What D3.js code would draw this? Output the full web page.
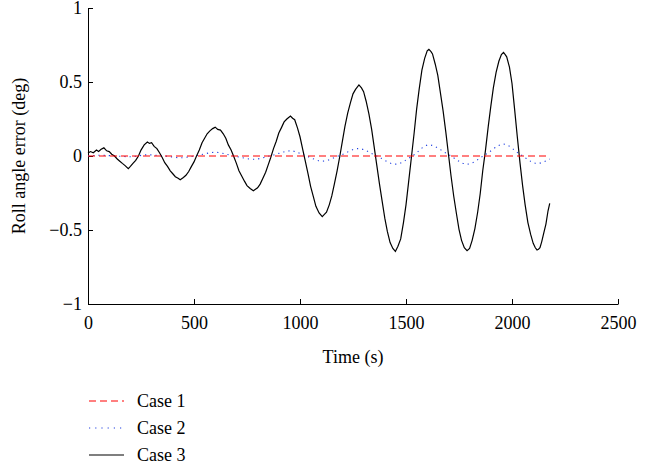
<!DOCTYPE html>
<html>
<head>
<meta charset="utf-8">
<script src="https://cdn.jsdelivr.net/npm/d3@7"></script>
<style>
  body { margin: 0; background: #fff; }
  text { font-family: "Liberation Serif", "DejaVu Serif", serif; }
</style>
</head>
<body>
<svg id="chart" width="663" height="470"></svg>
<script>
// ---- data ----
const xTicks = [0, 500, 1000, 1500, 2000, 2500];
const yTicks = [-1, -0.5, 0, 0.5, 1];

const case1Time = [0, 2178];
const case1Value = [0, 0];

const case2Time = [0, 60, 130, 200, 280, 360, 435, 520, 600, 690, 780, 870, 955, 1030,
  1105, 1190, 1275, 1362, 1450, 1530, 1608, 1700, 1788, 1875, 1960, 2040, 2118, 2178];
const case2Value = [0, 0.005, 0, -0.005, 0.008, 0, -0.012, 0.005, 0.025, 0, -0.022, 0.005, 0.035, 0,
  -0.035, 0.005, 0.05, 0, -0.055, 0, 0.075, 0.01, -0.055, 0.01, 0.08, 0.01, -0.05, -0.02];

const case3Time = [0, 12, 25, 40, 50, 62, 75, 88, 100, 112, 125, 138, 150, 162, 175, 190,
  200, 212, 225, 238, 250, 265, 280, 290, 300, 312, 325, 338, 350, 362, 375, 388, 400, 412, 425, 435,
  450, 462, 475, 488, 500, 512, 525, 538, 550, 562, 575, 588, 600, 612, 625, 638, 650, 662, 675, 688,
  700, 712, 725, 738, 750, 765, 780, 790, 800, 812, 825, 838, 850, 862, 875, 888, 900, 912, 925, 938,
  955, 965, 975, 988, 1000, 1012, 1025, 1038, 1050, 1062, 1075, 1090, 1105, 1115, 1125, 1138, 1150,
  1162, 1175, 1188, 1200, 1212, 1225, 1238, 1250, 1262, 1278, 1290, 1300, 1312, 1325, 1338, 1350,
  1362, 1375, 1388, 1400, 1412, 1425, 1438, 1450, 1462, 1475, 1488, 1500, 1512, 1525, 1538, 1550,
  1562, 1575, 1588, 1600, 1608, 1618, 1625, 1638, 1650, 1662, 1675, 1688, 1700, 1712, 1725, 1738,
  1750, 1762, 1775, 1788, 1800, 1812, 1825, 1838, 1850, 1862, 1875, 1888, 1900, 1912, 1925, 1938,
  1950, 1960, 1968, 1975, 1988, 2000, 2012, 2025, 2038, 2050, 2062, 2075, 2088, 2100, 2110, 2118,
  2125, 2132, 2140, 2150, 2160, 2170, 2178];
const case3Value = [0.02, 0.03, 0.022, 0.04, 0.03, 0.045, 0.055, 0.035, 0.03, 0.012, 0, -0.02, -0.035, -0.05, -0.065, -0.085,
  -0.07, -0.05, -0.03, 0, 0.04, 0.075, 0.095, 0.085, 0.09, 0.065, 0.05, 0.02, -0.01, -0.045, -0.07, -0.1, -0.12, -0.14, -0.15, -0.16,
  -0.145, -0.13, -0.105, -0.07, -0.04, 0, 0.04, 0.09, 0.12, 0.15, 0.17, 0.185, 0.195, 0.18, 0.175, 0.15, 0.12, 0.075, 0.04, -0.005,
  -0.05, -0.1, -0.135, -0.17, -0.2, -0.22, -0.235, -0.225, -0.215, -0.19, -0.15, -0.11, -0.06, -0.01, 0.05, 0.1, 0.155, 0.19, 0.23, 0.25,
  0.27, 0.255, 0.245, 0.19, 0.13, 0.05, -0.035, -0.12, -0.205, -0.27, -0.34, -0.385, -0.41, -0.395, -0.38, -0.33, -0.27,
  -0.19, -0.1, 0, 0.1, 0.2, 0.29, 0.36, 0.42, 0.45, 0.48, 0.46, 0.435, 0.37, 0.285, 0.18, 0.06,
  -0.06, -0.19, -0.31, -0.42, -0.51, -0.585, -0.625, -0.645, -0.61, -0.56, -0.45, -0.33, -0.18, -0.015, 0.15, 0.315,
  0.45, 0.58, 0.66, 0.71, 0.72, 0.705, 0.69, 0.62, 0.545, 0.43, 0.305, 0.16, 0.015, -0.13, -0.27, -0.39,
  -0.495, -0.57, -0.62, -0.64, -0.625, -0.57, -0.49, -0.38, -0.255, -0.1, 0.04, 0.2, 0.335, 0.46, 0.565, 0.64,
  0.685, 0.7, 0.685, 0.67, 0.6, 0.49, 0.32, 0.13, -0.05, -0.2, -0.33, -0.45, -0.53, -0.59, -0.62, -0.635,
  -0.63, -0.62, -0.58, -0.52, -0.46, -0.37, -0.32];

const legendLabels = ["Case 1", "Case 2", "Case 3"];

// ---- layout ----
const svg = d3.select("#chart");
const margin = { top: 8, left: 88, right: 45, bottom: 166 };
const width = 663, height = 470;
const innerW = width - margin.left - margin.right;
const innerH = height - margin.top - margin.bottom;
const fontSize = 18;

const g = svg.append("g").attr("transform", `translate(${margin.left},${margin.top})`);

const x = d3.scaleLinear().domain([0, 2500]).range([0, innerW]);
const y = d3.scaleLinear().domain([-1, 1]).range([innerH, 0]);

const xAxis = d3.axisBottom(x).tickValues(xTicks).tickSizeInner(-5).tickSizeOuter(0).tickPadding(12)
  .tickFormat(d3.format("d"));
const yAxis = d3.axisLeft(y).tickValues(yTicks).tickSizeInner(-5).tickSizeOuter(0).tickPadding(6)
  .tickFormat(d => String(d).replace("-", "\u2212"));

const xAxisG = g.append("g").attr("transform", `translate(0,${innerH})`).call(xAxis);
const yAxisG = g.append("g").call(yAxis);

[xAxisG, yAxisG].forEach(a => {
  a.attr("font-family", null).attr("font-size", null);
  a.selectAll("path, line").attr("stroke", "#000").attr("stroke-width", 1);
  a.selectAll("text").attr("font-size", fontSize).attr("fill", "#000");
});

// axis titles
g.append("text")
  .attr("x", innerW / 2).attr("y", innerH + 59)
  .attr("text-anchor", "middle").attr("font-size", fontSize)
  .text("Time (s)");

g.append("text")
  .attr("transform", `translate(${-63},${innerH / 2}) rotate(-90)`)
  .attr("text-anchor", "middle").attr("font-size", fontSize)
  .text("Roll angle error (deg)");

// ---- lines ----
const line = d3.line().x(d => x(d[0])).y(d => y(d[1]));
const smooth = d3.line().x(d => x(d[0])).y(d => y(d[1])).curve(d3.curveMonotoneX);

const zip = (t, v) => t.map((d, i) => [d, v[i]]);

g.append("path")
  .datum(zip(case2Time, case2Value))
  .attr("fill", "none").attr("stroke", "#2040e0").attr("stroke-width", 1.1)
  .attr("stroke-dasharray", "1.2,4").attr("d", smooth);

g.append("path")
  .datum(zip(case3Time, case3Value))
  .attr("fill", "none").attr("stroke", "#000").attr("stroke-width", 1.2)
  .attr("d", line);

g.append("path")
  .datum(zip(case1Time, case1Value))
  .attr("fill", "none").attr("stroke", "#ff0000").attr("stroke-width", 1.2)
  .attr("stroke-dasharray", "7,4").attr("d", line);

// ---- legend ----
const legendStyles = [
  { stroke: "#ff0000", dash: "7,4", w: 1.2 },
  { stroke: "#2040e0", dash: "1.2,5", w: 1.1 },
  { stroke: "#000", dash: null, w: 1.2 }
];

const legend = svg.append("g").attr("transform", "translate(89,401)");
legendLabels.forEach((lab, i) => {
  const row = legend.append("g").attr("transform", `translate(0,${i * 27})`);
  row.append("line")
    .attr("x1", 0).attr("x2", 35).attr("y1", 0).attr("y2", 0)
    .attr("stroke", legendStyles[i].stroke).attr("stroke-width", legendStyles[i].w)
    .attr("stroke-dasharray", legendStyles[i].dash);
  row.append("text")
    .attr("x", 48).attr("y", 0).attr("dy", "0.35em")
    .attr("font-size", fontSize).text(lab);
});
</script>
</body>
</html>
